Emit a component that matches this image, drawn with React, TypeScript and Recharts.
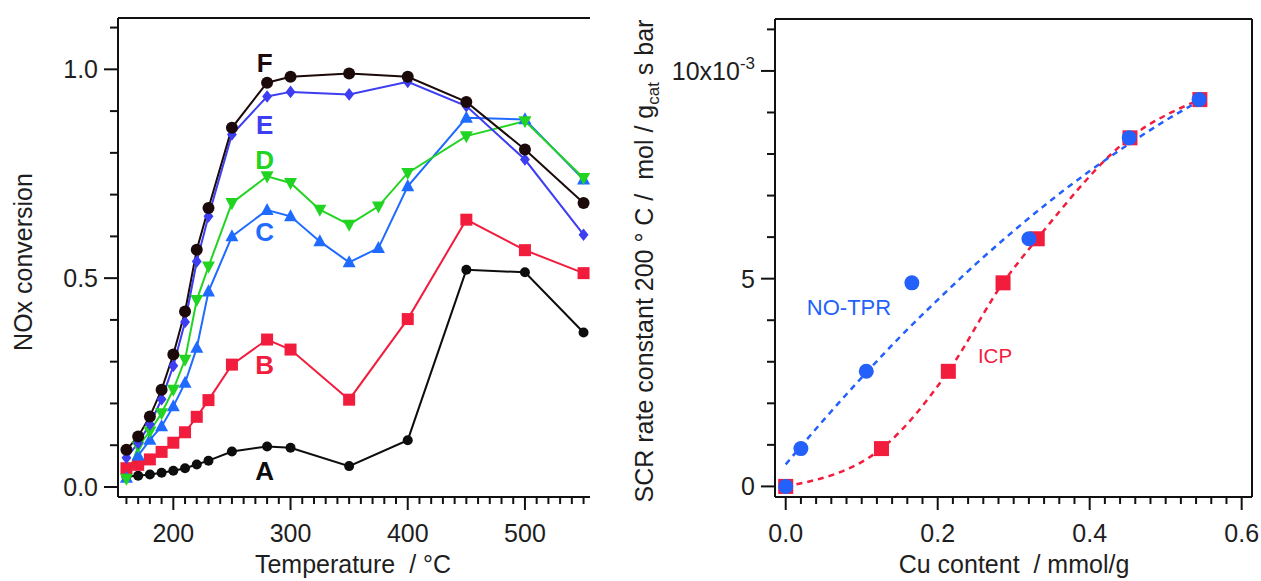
import React from 'react';
import {
  LineChart,
  ComposedChart,
  Line,
  Scatter,
  XAxis,
  YAxis,
  ReferenceLine,
  ReferenceDot,
  Label,
} from 'recharts';

const FONT = '"Liberation Sans", Arial, Helvetica, sans-serif';
const AXIS = '#111111';
const TEXT = '#1e1e1e';

// ---------- Left panel data ----------
const temps = [160, 170, 180, 190, 200, 210, 220, 230, 250, 280, 300, 350, 400, 450, 500, 550];
const tempsCD = [160, 170, 180, 190, 200, 210, 220, 230, 250, 280, 300, 325, 350, 375, 400, 450, 500, 550];
const convA = [0.025, 0.027, 0.03, 0.034, 0.039, 0.045, 0.054, 0.063, 0.085, 0.097, 0.094, 0.05, 0.112, 0.52, 0.514, 0.37];
const convB = [0.045, 0.053, 0.066, 0.084, 0.106, 0.131, 0.168, 0.208, 0.293, 0.353, 0.329, 0.209, 0.402, 0.64, 0.567, 0.512];
const convC = [0.022, 0.075, 0.113, 0.145, 0.193, 0.249, 0.333, 0.468, 0.6, 0.663, 0.648, 0.588, 0.538, 0.572, 0.72, 0.884, 0.88, 0.736];
const convD = [0.02, 0.097, 0.133, 0.177, 0.233, 0.305, 0.448, 0.528, 0.68, 0.744, 0.728, 0.664, 0.628, 0.672, 0.752, 0.84, 0.876, 0.74];
const convE = [0.07, 0.105, 0.15, 0.21, 0.29, 0.395, 0.54, 0.648, 0.844, 0.935, 0.946, 0.94, 0.97, 0.912, 0.784, 0.604];
const convF = [0.089, 0.121, 0.169, 0.233, 0.317, 0.42, 0.568, 0.668, 0.86, 0.968, 0.982, 0.99, 0.982, 0.922, 0.808, 0.68];

const leftXTicks = [160, 170, 180, 190, 200, 210, 220, 230, 240, 250, 260, 270, 280, 290, 300, 310, 320, 330, 340, 350, 360, 370, 380, 390, 400, 410, 420, 430, 440, 450, 460, 470, 480, 490, 500, 510, 520, 530, 540, 550];
const leftXMajor = [200, 300, 400, 500];
const leftYTicks = [0, 0.1, 0.2, 0.3, 0.4, 0.5, 0.6, 0.7, 0.8, 0.9, 1.0, 1.1];
const leftYMajor = [0, 0.5, 1.0];

const curveNames = ['A', 'B', 'C', 'D', 'E', 'F'];
const curveColors = ['#0d0d0d', '#f21c3d', '#1f6bff', '#22d422', '#3d3df2', '#1c0a0a'];
const letterX = [278, 278, 278, 278, 278, 278];
const letterY = [0.04, 0.292, 0.611, 0.783, 0.867, 1.016];

// ---------- Right panel data ----------
const cuNoTpr = [0, 0.02, 0.106, 0.166, 0.32, 0.452, 0.544];
const cuIcp = [0, 0.126, 0.214, 0.286, 0.331, 0.453, 0.545];
const rateK = [0, 0.91, 2.77, 4.9, 5.96, 8.39, 9.31]; // x10^-3
const fitX = [0, 0.05, 0.1, 0.15, 0.2, 0.25, 0.3, 0.35, 0.4, 0.45, 0.5, 0.545];
const fitNoTpr = [0.53, 1.6, 2.62, 3.59, 4.49, 5.35, 6.15, 6.9, 7.59, 8.22, 8.81, 9.28];

const rightXTicks = [0, 0.02, 0.04, 0.06, 0.08, 0.1, 0.12, 0.14, 0.16, 0.18, 0.2, 0.22, 0.24, 0.26, 0.28, 0.3, 0.32, 0.34, 0.36, 0.38, 0.4, 0.42, 0.44, 0.46, 0.48, 0.5, 0.52, 0.54, 0.56, 0.58, 0.6];
const rightXMajor = [0, 0.2, 0.4, 0.6];
const rightYTicks = [0, 1, 2, 3, 4, 5, 6, 7, 8, 9, 10, 11];
const rightYMajor = [0, 5, 10];

const BLUE = '#2361fa';
const RED = '#f21c3d';

const zip = (xs: number[], ys: number[]) => xs.map((x, i) => ({ x, y: ys[i] }));

const isMajor = (majors: number[], v: number) => majors.some((m) => Math.abs(m - v) < 1e-9);

type Shape = 'circle' | 'square' | 'up' | 'down' | 'diamond';

const markerEl = (shape: Shape, size: number, color: string, cx: number, cy: number, key: any) => {
  const h = size / 2;
  switch (shape) {
    case 'circle':
      return <circle key={key} cx={cx} cy={cy} r={h} fill={color} />;
    case 'square':
      return <rect key={key} x={cx - h} y={cy - h} width={size} height={size} fill={color} />;
    case 'up':
      return (
        <polygon
          key={key}
          points={`${cx},${cy - h * 1.1} ${cx - h},${cy + h * 0.75} ${cx + h},${cy + h * 0.75}`}
          fill={color}
        />
      );
    case 'down':
      return (
        <polygon
          key={key}
          points={`${cx},${cy + h * 1.1} ${cx - h},${cy - h * 0.75} ${cx + h},${cy - h * 0.75}`}
          fill={color}
        />
      );
    case 'diamond':
    default:
      return (
        <polygon
          key={key}
          points={`${cx},${cy - h * 1.15} ${cx + h * 0.9},${cy} ${cx},${cy + h * 1.15} ${cx - h * 0.9},${cy}`}
          fill={color}
        />
      );
  }
};

const makeDot = (shape: Shape, size: number, color: string) => (props: any) => {
  const { cx, cy, index } = props;
  if (cx == null || cy == null) return <g key={`e-${index}`} />;
  return markerEl(shape, size, color, cx, cy, `m-${index}`);
};

const makeYTick = (majors: number[], fmt: (v: number) => React.ReactNode) => (props: any) => {
  const { x, y, payload } = props;
  const v = payload.value;
  const major = isMajor(majors, v);
  return (
    <g>
      <line x1={x} y1={y} x2={x - (major ? 14 : 8)} y2={y} stroke={AXIS} strokeWidth={2} />
      {major && (
        <text x={x - 20} y={y} dy={9} textAnchor="end" fontSize={25} fill={TEXT} fontFamily={FONT}>
          {fmt(v)}
        </text>
      )}
    </g>
  );
};

const makeXTick = (majors: number[], fmt: (v: number) => string) => (props: any) => {
  const { x, y, payload } = props;
  const v = payload.value;
  const major = isMajor(majors, v);
  return (
    <g>
      <line x1={x} y1={y} x2={x} y2={y + (major ? 13 : 7)} stroke={AXIS} strokeWidth={2} />
      {major && (
        <text x={x} y={y + 45} textAnchor="middle" fontSize={25} fill={TEXT} fontFamily={FONT}>
          {fmt(v)}
        </text>
      )}
    </g>
  );
};

const leftSeries = [
  { data: zip(temps, convA), shape: 'circle' as Shape, size: 10 },
  { data: zip(temps, convB), shape: 'square' as Shape, size: 12 },
  { data: zip(tempsCD, convC), shape: 'up' as Shape, size: 13 },
  { data: zip(tempsCD, convD), shape: 'down' as Shape, size: 13 },
  { data: zip(temps, convE), shape: 'diamond' as Shape, size: 11 },
  { data: zip(temps, convF), shape: 'circle' as Shape, size: 12 },
];

const LEFT_Y_DOMAIN: [number, number] = [-0.024, 1.1229];
const RIGHT_Y_DOMAIN: [number, number] = [-0.255, 11.25];
const RIGHT_X_DOMAIN: [number, number] = [-0.0141, 0.6136];

const LeftPanel = () => (
  <div style={{ position: 'absolute', left: 0, top: 0, width: 590, height: 581, overflow: 'hidden' }}>
    <LineChart width={600} height={581} margin={{ top: 18, right: 10, bottom: 0, left: 0 }}>
      <XAxis
        type="number"
        dataKey="x"
        domain={[152.8, 555.5]}
        ticks={leftXTicks}
        interval={0}
        tickSize={0}
        tickMargin={0}
        tickLine={false}
        tick={makeXTick(leftXMajor, (v) => String(v))}
        axisLine={{ stroke: AXIS, strokeWidth: 2 }}
        height={84}
      >
        <Label
          content={() => (
            <text x={353} y={573} textAnchor="middle" fontSize={25} fill={TEXT} fontFamily={FONT} style={{ whiteSpace: 'pre' }}>
              {'Temperature  / °C'}
            </text>
          )}
        />
      </XAxis>
      <YAxis
        type="number"
        dataKey="y"
        domain={LEFT_Y_DOMAIN}
        ticks={leftYTicks}
        interval={0}
        tickSize={0}
        tickMargin={0}
        tickLine={false}
        tick={makeYTick(leftYMajor, (v) => v.toFixed(1))}
        axisLine={{ stroke: AXIS, strokeWidth: 2 }}
        width={118}
      >
        <Label
          content={() => (
            <text transform="translate(32,262) rotate(-90)" textAnchor="middle" fontSize={25} fill={TEXT} fontFamily={FONT}>
              NOx conversion
            </text>
          )}
        />
      </YAxis>
      <ReferenceLine y={LEFT_Y_DOMAIN[1]} stroke={AXIS} strokeWidth={2} />
      {leftSeries.map((s, i) => (
        <Line
          key={curveNames[i]}
          data={s.data}
          dataKey="y"
          type="linear"
          stroke={curveColors[i]}
          strokeWidth={2}
          dot={makeDot(s.shape, s.size, curveColors[i])}
          activeDot={false}
          isAnimationActive={false}
        />
      ))}
      {curveNames.map((n, i) => (
        <ReferenceDot
          key={`lbl-${n}`}
          x={letterX[i]}
          y={letterY[i]}
          r={0}
          fill="none"
          stroke="none"
          label={{ value: n, position: 'center', fill: curveColors[i], fontSize: 26, fontWeight: 700, fontFamily: FONT }}
        />
      ))}
    </LineChart>
  </div>
);

const RightPanel = () => (
  <div style={{ position: 'absolute', left: 620, top: 0, width: 641, height: 581 }}>
    <ComposedChart width={641} height={581} margin={{ top: 19, right: 9, bottom: 0, left: 0 }}>
      <XAxis
        type="number"
        dataKey="x"
        domain={RIGHT_X_DOMAIN}
        ticks={rightXTicks}
        interval={0}
        tickSize={0}
        tickMargin={0}
        tickLine={false}
        tick={makeXTick(rightXMajor, (v) => v.toFixed(1))}
        axisLine={{ stroke: AXIS, strokeWidth: 2 }}
        height={84}
      >
        <Label
          content={() => (
            <text x={394} y={573} textAnchor="middle" fontSize={25} fill={TEXT} fontFamily={FONT} style={{ whiteSpace: 'pre' }}>
              {'Cu content  / mmol/g'}
            </text>
          )}
        />
      </XAxis>
      <YAxis
        type="number"
        dataKey="y"
        domain={RIGHT_Y_DOMAIN}
        ticks={rightYTicks}
        interval={0}
        tickSize={0}
        tickMargin={0}
        tickLine={false}
        tick={makeYTick(rightYMajor, (v) =>
          v === 10 ? (
            <>
              10x10
              <tspan dy={-11} fontSize={17}>
                -3
              </tspan>
            </>
          ) : (
            String(v)
          )
        )}
        axisLine={{ stroke: AXIS, strokeWidth: 2 }}
        width={155}
      >
        <Label
          content={() => (
            <text transform="translate(33,261) rotate(-90)" textAnchor="middle" fontSize={25} fill={TEXT} fontFamily={FONT} style={{ whiteSpace: 'pre' }}>
              {'SCR rate constant 200 ° C /  mol / g'}
              <tspan dy={6} fontSize={17}>
                cat
              </tspan>
              <tspan dy={-6}>{' s bar'}</tspan>
            </text>
          )}
        />
      </YAxis>
      <ReferenceLine y={RIGHT_Y_DOMAIN[1]} stroke={AXIS} strokeWidth={2} />
      <ReferenceLine x={RIGHT_X_DOMAIN[1]} stroke={AXIS} strokeWidth={2} />
      <Line
        data={zip(cuIcp, rateK)}
        dataKey="y"
        type="monotone"
        stroke={RED}
        strokeWidth={2.5}
        strokeDasharray="6 5"
        dot={false}
        activeDot={false}
        isAnimationActive={false}
      />
      <Line
        data={zip(fitX, fitNoTpr)}
        dataKey="y"
        type="monotone"
        stroke={BLUE}
        strokeWidth={2.5}
        strokeDasharray="6 5"
        dot={false}
        activeDot={false}
        isAnimationActive={false}
      />
      <Scatter
        data={zip(cuIcp, rateK)}
        dataKey="y"
        isAnimationActive={false}
        shape={(p: any) => <rect x={p.cx - 7.5} y={p.cy - 7.5} width={15} height={15} fill={RED} />}
      />
      <Scatter
        data={zip(cuNoTpr, rateK)}
        dataKey="y"
        isAnimationActive={false}
        shape={(p: any) => <circle cx={p.cx} cy={p.cy} r={7.5} fill={BLUE} />}
      />
      <ReferenceDot
        x={0.0833}
        y={4.32}
        r={0}
        fill="none"
        stroke="none"
        label={{ value: 'NO-TPR', position: 'center', fill: BLUE, fontSize: 22, fontFamily: FONT }}
      />
      <ReferenceDot
        x={0.2754}
        y={3.14}
        r={0}
        fill="none"
        stroke="none"
        label={{ value: 'ICP', position: 'center', fill: RED, fontSize: 20.5, fontFamily: FONT }}
      />
    </ComposedChart>
  </div>
);

export default function App() {
  return (
    <div style={{ position: 'absolute', left: 0, top: 0, width: 1261, height: 581, background: '#ffffff', fontFamily: FONT }}>
      <LeftPanel />
      <RightPanel />
    </div>
  );
}
